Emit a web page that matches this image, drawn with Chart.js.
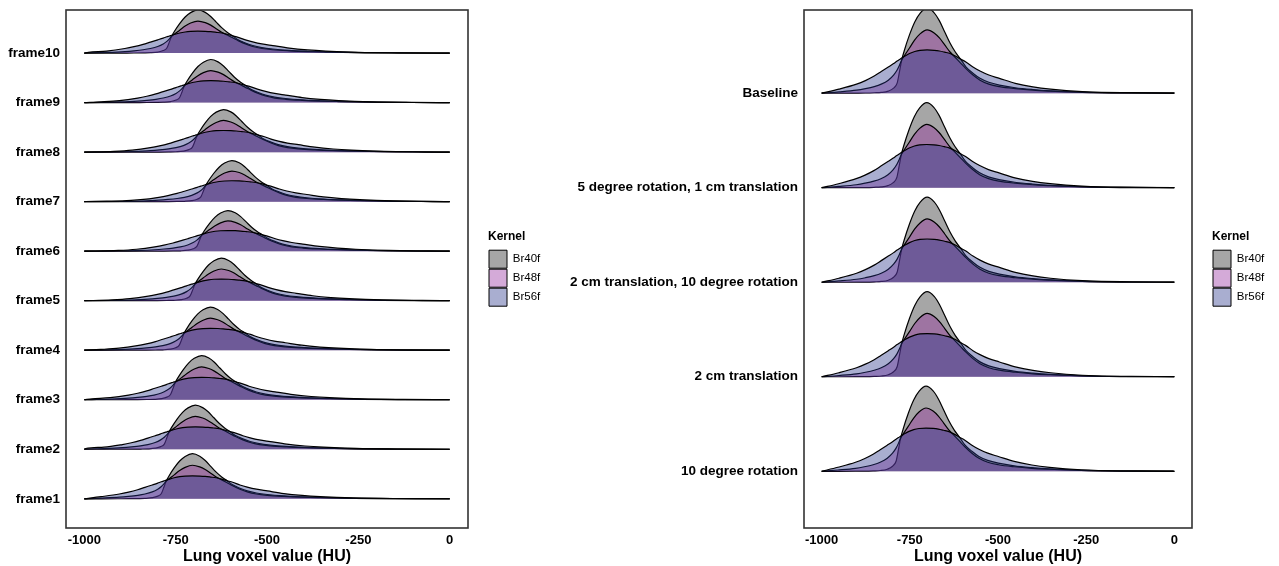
<!DOCTYPE html>
<html>
<head>
<meta charset="utf-8">
<title>Lung voxel ridgelines</title>
<script src="https://cdn.jsdelivr.net/npm/chart.js@4.4.1/dist/chart.umd.min.js"></script>
<style>
    body { margin: 0; background: #ffffff; }
    canvas { position: absolute; top: 0; }
</style>
</head>
<body>
<canvas id="framesChart" width="560" height="566" style="left:0px"></canvas>
<canvas id="motionChart" width="719" height="566" style="left:560px"></canvas>
<script>
// kernels, drawn Br40f first, Br56f last (on top)
const kernels = ["Br40f", "Br48f", "Br56f"];
const kernelFills = ["rgba(33,33,33,0.4)", "rgba(148,43,158,0.4)", "rgba(40,53,138,0.4)"];

// density shape, offset (HU) from the ridge mode, Br40f peak = 100
const offsetHU = [-400, -300, -250, -200, -175, -150, -130, -110, -95, -85, -78, -72, -65, -50, -35, -20, 0,
    20, 35, 50, 65, 80, 95, 110, 130, 150, 175, 205, 250, 300, 350, 440, 550, 700];
const br40fDensity = [0, 0, 0, 0.1, 0.2, 0.5, 0.9, 2.4, 5.9, 11.8, 26, 39, 49.6, 68.5, 83.8, 93.9, 100,
    94.5, 85, 72, 59, 48.4, 40, 31, 23.5, 17.5, 12.8, 9.5, 6.4, 4.3, 2.8, 1.1, 0.3, 0.1];
const br48fDensity = [0, 0.4, 1.5, 3.5, 5.3, 7.7, 10.6, 15.3, 21.3, 27.2, 33.1, 39, 43.7, 53.1, 62.6, 69.7, 74.4,
    70.8, 64.9, 56.7, 48.4, 41.9, 35.4, 28.9, 21.3, 15.3, 10.6, 7.7, 5.3, 3.5, 2.4, 0.9, 0.2, 0];
const br56fDensity = [0.4, 1.8, 4.7, 10.6, 14.8, 20.1, 25.4, 30.7, 34.8, 37.8, 39.6, 41.3, 43.1, 46.6, 49, 50.3, 50.8,
    50.4, 49.6, 48.2, 46.6, 43.7, 40.1, 36.6, 30.7, 26, 21.3, 17.4, 11.6, 7.4, 4.7, 1.8, 0.6, 0.1];

// left panel, bottom to top
const frameLabels = ["frame1", "frame2", "frame3", "frame4", "frame5", "frame6", "frame7", "frame8", "frame9", "frame10"];
const frameModes = [-704, -696, -679, -655, -625, -607, -596, -619, -654, -689];
const framePeaks = [0.91, 0.89, 0.89, 0.87, 0.86, 0.82, 0.83, 0.86, 0.87, 0.87];

// right panel, bottom to top
const motionLabels = ["10 degree rotation", "2 cm translation", "2 cm translation, 10 degree rotation",
    "5 degree rotation, 1 cm translation", "Baseline"];
const motionModes = [-704, -701, -701, -702, -701];
const motionPeaks = [0.9, 0.9, 0.9, 0.9, 0.9];

const xTicks = [-1000, -750, -500, -250, 0];

Chart.defaults.font.family = "'Liberation Sans', Arial, sans-serif";
Chart.defaults.color = "#000";

const panelBorder = {
    id: "panelBorder",
    afterDatasetsDraw(chart) {
        let a = chart.chartArea;
        let ctx = chart.ctx;
        ctx.save();
        ctx.strokeStyle = "#333333";
        ctx.lineWidth = 1.6;
        ctx.strokeRect(a.left, a.top, a.right - a.left, a.bottom - a.top);
        ctx.restore();
    }
};

function buildDatasets(modes, peaks) {
    let profiles = [br40fDensity, br48fDensity, br56fDensity];
    let sets = [];
    modes.forEach(function (mode, r) {
        kernels.forEach(function (kernel, k) {
            let pts = [{ x: -1000, y: r }];
            for (let i = 0; i < offsetHU.length; i++) {
                let x = mode + offsetHU[i];
                if (x > -1000 && x < 0) pts.push({ x: x, y: r + profiles[k][i] / 100 * peaks[r] });
            }
            pts.push({ x: 0, y: r });
            sets.push({
                label: kernel,
                data: pts,
                fill: { value: r },
                backgroundColor: kernelFills[k],
                borderColor: "#000",
                borderWidth: 1.2,
                pointRadius: 0,
                cubicInterpolationMode: "monotone",
                order: r * 3 + (2 - k)
            });
        });
    });
    return sets;
}

function ridgeChart(id, labels, modes, peaks, yMin, yMax, yWidth, padRight) {
    let ctx = document.getElementById(id).getContext("2d");
    return new Chart(ctx, {
        type: "line",
        data: { datasets: buildDatasets(modes, peaks) },
        plugins: [panelBorder],
        options: {
            responsive: false,
            animation: false,
            events: [],
            layout: { padding: { top: 10, right: padRight, bottom: 0, left: 0 } },
            plugins: {
                tooltip: { enabled: false },
                legend: {
                    position: "right",
                    align: "center",
                    fullSize: false,
                    maxWidth: 60,
                    title: {
                        display: true,
                        text: "Kernel",
                        position: "start",
                        color: "#000",
                        font: { size: 12, weight: "bold" },
                        padding: { top: 0, bottom: 4 }
                    },
                    labels: {
                        boxWidth: 18,
                        boxHeight: 18,
                        padding: 1,
                        color: "#1a1a1a",
                        font: { size: 11.5 },
                        generateLabels: function () {
                            return kernels.map(function (k, i) {
                                return { text: k, fillStyle: kernelFills[i], strokeStyle: "#000", lineWidth: 1, hidden: false, datasetIndex: i };
                            });
                        }
                    }
                }
            },
            scales: {
                x: {
                    type: "linear",
                    min: -1050,
                    max: 50,
                    afterBuildTicks: s => { s.ticks = xTicks.map(v => ({ value: v })); },
                    afterFit: s => { s.height = 38; },
                    grid: { display: false, drawTicks: false },
                    border: { display: false },
                    ticks: {
                        padding: 5,
                        autoSkip: false,
                        maxRotation: 0,
                        color: "#000",
                        font: { size: 13, weight: "bold" },
                        callback: v => String(v)
                    },
                    title: {
                        display: true,
                        text: "Lung voxel value (HU)",
                        color: "#000",
                        font: { size: 16, weight: "bold" },
                        padding: { top: 0, bottom: 0 }
                    }
                },
                y: {
                    type: "linear",
                    min: yMin,
                    max: yMax,
                    afterBuildTicks: s => { s.ticks = labels.map((_, i) => ({ value: i })); },
                    afterFit: s => { s.width = yWidth; },
                    grid: { display: false, drawTicks: false },
                    border: { display: false },
                    ticks: {
                        padding: 6,
                        autoSkip: false,
                        color: "#000",
                        font: { size: 13.5, weight: "bold", lineHeight: 0.5 },
                        callback: v => labels[v]
                    }
                },
                spacer: {
                    axis: "y",
                    type: "linear",
                    position: "right",
                    grid: { display: false, drawTicks: false },
                    border: { display: false },
                    ticks: { display: false },
                    afterFit: s => { s.width = 20; }
                }
            }
        }
    });
}

document.addEventListener("DOMContentLoaded", function () {
    ridgeChart("framesChart", frameLabels, frameModes, framePeaks, -0.59, 9.87, 66, 12);
    ridgeChart("motionChart", motionLabels, motionModes, motionPeaks, -0.6, 4.88, 244, 7);
});
</script>
</body>
</html>
